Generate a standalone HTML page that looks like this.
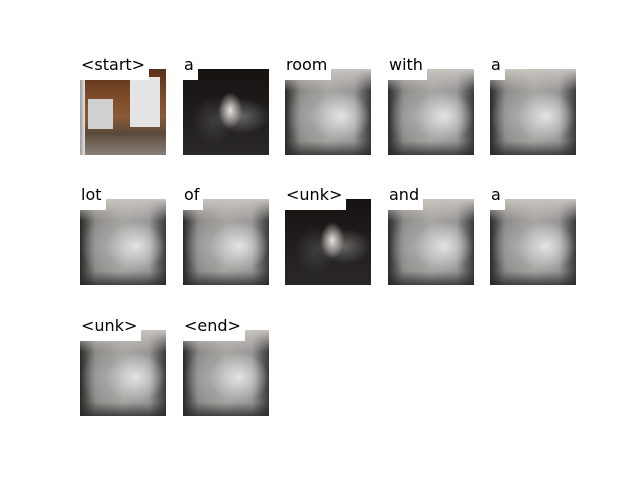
<!DOCTYPE html>
<html><head><meta charset="utf-8"><style>
body{margin:0;width:640px;height:480px;background:#fff;position:relative;overflow:hidden;font-family:"DejaVu Sans","Liberation Sans",sans-serif}
.img{position:absolute;width:86px;height:86px;background:
radial-gradient(ellipse 30px 25px at 65% 55%,rgba(235,235,235,.9),rgba(235,235,235,0) 100%),
radial-gradient(ellipse 25px 30px at 30% 55%,rgba(170,170,170,.8),rgba(170,170,170,0) 100%),
linear-gradient(90deg,#2a2a2a 0%,#8a8884 18%,#a8a6a2 50%,#9a9896 80%,#3a3a3a 100%);}
.img::before{content:"";position:absolute;left:0;top:0;right:0;height:22px;background:linear-gradient(#c8c4c0,rgba(200,196,192,0));}
.img::after{content:"";position:absolute;left:0;right:0;bottom:0;height:14px;background:linear-gradient(rgba(40,40,40,0),rgba(40,40,40,.8));}
.lbl{position:absolute;background:#fff;font-size:16px;line-height:30px;padding:0 4px 0 1px;color:#000}
.dark{background:radial-gradient(ellipse 12px 18px at 55% 48%,rgba(240,235,230,.95),rgba(240,235,230,0)),radial-gradient(ellipse 28px 18px at 68% 55%,rgba(150,150,150,.6),rgba(150,150,150,0)),radial-gradient(ellipse 20px 25px at 35% 60%,rgba(90,90,90,.5),rgba(90,90,90,0)),linear-gradient(#151210,#2a2826)}
.dark::before,.dark::after{display:none}
.start{background:linear-gradient(90deg,#9a9a9a 0%,#e8e8e8 6%,transparent 6%),linear-gradient(#5a2e18 0%,#7a4a28 30%,#8a5a35 55%,#5a4a3a 75%,#8a8078 100%);}
.start::before{content:"";position:absolute;left:50px;top:8px;width:30px;height:50px;background:#e4e4e6;}
.start::after{content:"";position:absolute;left:8px;right:auto;bottom:auto;top:30px;width:25px;height:30px;background:#d0d0d0;}
</style></head><body>
<div id="grid"></div>
<script>
const words=["<start>","a","room","with","a","lot","of","<unk>","and","a","<unk>","<end>"];
const xs=[80,183,285,388,490],ys=[69,199,330];
words.forEach((w,i)=>{
 const x=xs[i%5],y=ys[Math.floor(i/5)];
 const d=document.createElement('div');
 d.className='img'+(i===0?' start':(i===1||i===7?' dark':''));
 d.style.left=x+'px';d.style.top=y+'px';
 
 
 document.body.appendChild(d);
 const l=document.createElement('div');
 l.className='lbl';l.textContent=w;
 l.style.left=x+'px';l.style.top=(y-19)+'px';
 
 
 document.body.appendChild(l);
});
</script>
</body></html>
